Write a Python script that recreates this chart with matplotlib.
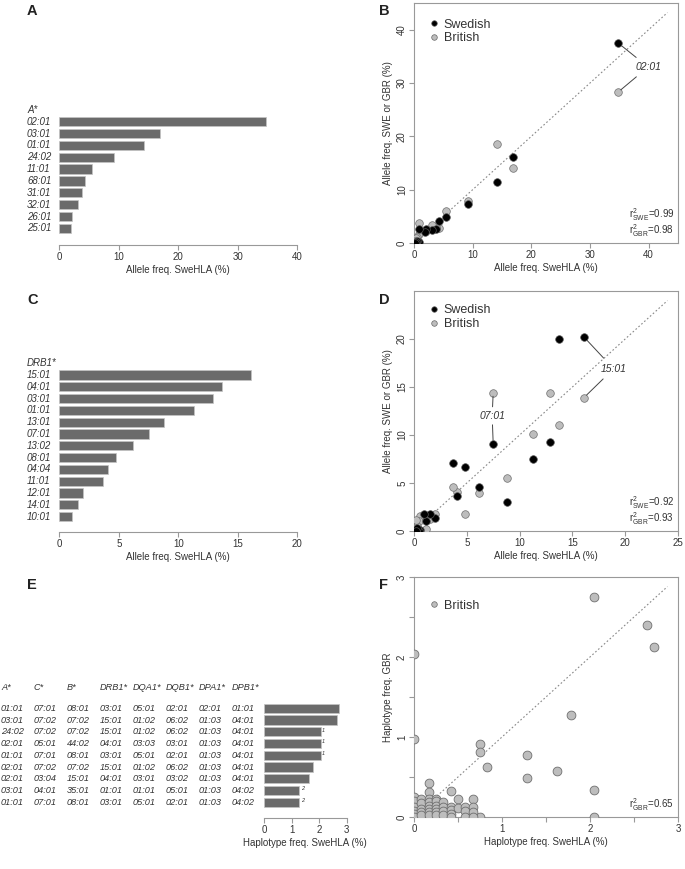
import matplotlib
matplotlib.use('Agg')
import matplotlib.pyplot as plt
from matplotlib.lines import Line2D
from matplotlib.transforms import blended_transform_factory

plt.rcParams['font.family'] = ['Liberation Sans', 'DejaVu Sans']
plt.rcParams['mathtext.fontset'] = 'custom'
plt.rcParams['mathtext.rm'] = 'Liberation Sans'
plt.rcParams['mathtext.it'] = 'Liberation Sans:italic'

# ---- data ----
# panel A: HLA-A allele frequencies in SweHLA (%)
a_alleles = ['02:01', '03:01', '01:01', '24:02', '11:01', '68:01', '31:01', '32:01', '26:01', '25:01']
a_freq = [34.8, 16.9, 14.2, 9.2, 5.5, 4.3, 3.8, 3.1, 2.1, 1.9]

# panel B: SweHLA vs Swedish / British
b_x = [34.8, 16.9, 14.2, 9.2, 5.5, 4.3, 3.8, 3.1, 2.1, 1.8, 0.8, 0.8, 0.5, 0.3, 0.2]
b_swe = [37.5, 16.1, 11.4, 7.4, 4.8, 4.2, 2.6, 2.5, 2.6, 2.0, 2.6, 0.1, 0.3, 0.1, 0.0]
b_gbr = [28.3, 14.1, 18.6, 7.9, 6.0, 2.9, 3.0, 3.4, 2.3, 2.2, 3.8, 1.6, 1.1, 0.9, 0.3]

# panel C: DRB1 allele frequencies
c_alleles = ['15:01', '04:01', '03:01', '01:01', '13:01', '07:01', '13:02', '08:01',
             '04:04', '11:01', '12:01', '14:01', '10:01']
c_freq = [16.1, 13.7, 12.9, 11.3, 8.8, 7.5, 6.2, 4.8, 4.1, 3.7, 2.0, 1.6, 1.1]

# panel D
d_x = [16.1, 13.7, 12.9, 11.3, 8.8, 7.5, 6.2, 4.8, 4.1, 3.7, 2.0, 1.5, 1.1, 0.9, 0.6, 0.5, 0.3, 0.2]
d_swe = [20.2, 20.0, 9.3, 7.5, 3.0, 9.1, 4.6, 6.7, 3.6, 7.1, 1.4, 1.8, 1.0, 1.8, 0.1, 0.0, 0.3, 0.0]
d_gbr = [13.9, 11.0, 14.4, 10.1, 5.5, 14.4, 4.0, 1.8, 4.1, 4.6, 1.8, 1.3, 0.2, 1.5, 1.6, 1.0, 0.5, 1.1]

# panel E: haplotypes
hap_A = ['01:01', '03:01', '24:02', '02:01', '01:01', '02:01', '02:01', '03:01', '01:01']
hap_C = ['07:01', '07:02', '07:02', '05:01', '07:01', '07:02', '03:04', '04:01', '07:01']
hap_B = ['08:01', '07:02', '07:02', '44:02', '08:01', '07:02', '15:01', '35:01', '08:01']
hap_DRB1 = ['03:01', '15:01', '15:01', '04:01', '03:01', '15:01', '04:01', '01:01', '03:01']
hap_DQA1 = ['05:01', '01:02', '01:02', '03:03', '05:01', '01:02', '03:01', '01:01', '05:01']
hap_DQB1 = ['02:01', '06:02', '06:02', '03:01', '02:01', '06:02', '03:02', '05:01', '02:01']
hap_DPA1 = ['02:01', '01:03', '01:03', '01:03', '01:03', '01:03', '01:03', '01:03', '01:03']
hap_DPB1 = ['01:01', '04:01', '04:01', '04:01', '04:01', '04:01', '04:01', '04:02', '04:02']
hap_freq = [2.73, 2.65, 2.05, 2.05, 2.05, 1.78, 1.62, 1.28, 1.28]
hap_note = ['', '', '1', '1', '1', '', '', '2', '2']

# panel F: haplotype freq SweHLA vs GBR
f_x = [2.05, 2.65, 2.73, 0.0, 0.0, 1.78, 0.75, 0.75, 0.83, 1.28, 1.28, 1.62, 2.05, 2.05, 0.75,
       0.0, 0.0, 0.0, 0.0, 0.0, 0.0,
       0.08, 0.08, 0.08, 0.08, 0.08,
       0.17, 0.17, 0.17, 0.17, 0.17, 0.17, 0.17, 0.17,
       0.25, 0.25, 0.25, 0.25, 0.25, 0.25,
       0.33, 0.33, 0.33, 0.33,
       0.42, 0.42, 0.42, 0.42, 0.42,
       0.50, 0.50,
       0.58, 0.58, 0.58,
       0.67, 0.67, 0.67, 0.67]
f_y = [2.75, 2.40, 2.13, 2.04, 0.97, 1.28, 0.91, 0.81, 0.63, 0.77, 0.49, 0.57, 0.34, 0.0, 0.0,
       0.25, 0.20, 0.13, 0.08, 0.04, 0.0,
       0.22, 0.18, 0.10, 0.06, 0.02,
       0.42, 0.31, 0.22, 0.19, 0.14, 0.10, 0.06, 0.02,
       0.23, 0.20, 0.14, 0.10, 0.06, 0.02,
       0.19, 0.13, 0.07, 0.03,
       0.32, 0.13, 0.09, 0.04, 0.0,
       0.22, 0.11,
       0.13, 0.07, 0.0,
       0.23, 0.12, 0.06, 0.0]

# ---- style ----
TXT = '#333333'
AXC = '#999999'
BARC = '#6b6b6b'
SWE_C = 'black'
GBR_C = '#bdbdbd'

W, H = 685, 869
fig = plt.figure(figsize=(W / 100, H / 100), dpi=100)


def px_axes(l, t, r, b):
    return fig.add_axes([l / W, 1 - b / H, (r - l) / W, (b - t) / H])


def bar_panel(l, r, row0, step, axis_y, values, xmax, xticks, xlabel):
    n = len(values)
    ax = px_axes(l, row0 - 2 * step, r, axis_y)
    ax.barh(range(n), values, height=0.78, color=BARC, edgecolor='#c4c4c4', linewidth=0.5)
    ax.set_xlim(0, xmax)
    ax.set_ylim((axis_y - row0) / step, -2)
    for s in ['left', 'top', 'right']:
        ax.spines[s].set_visible(False)
    ax.spines['bottom'].set_bounds(0, xmax)
    ax.spines['bottom'].set_color(AXC)
    ax.spines['bottom'].set_linewidth(0.8)
    ax.set_yticks([])
    ax.set_xticks(xticks)
    ax.tick_params(axis='x', length=3.5, width=0.8, color=AXC, labelcolor=TXT, labelsize=7, pad=1.5)
    ax.set_xlabel(xlabel, fontsize=7, color=TXT, labelpad=2)
    return ax


def row_labels(ax, xpx, header, labels, fs=7, head_row=-1):
    tr = blended_transform_factory(fig.transFigure, ax.transData)
    ax.text(xpx / W, head_row, header, transform=tr, ha='left', va='center', style='italic',
            fontsize=fs, color=TXT, clip_on=False)
    for i, lab in enumerate(labels):
        ax.text(xpx / W, i, lab, transform=tr, ha='left', va='center', style='italic',
                fontsize=fs, color=TXT, clip_on=False)


def scatter_panel(t, b, lim, xticks, yticks, xlabel, ylabel):
    ax = px_axes(414, t, 678, b)
    ax.set_xlim(0, lim)
    ax.set_ylim(0, lim)
    for s in ax.spines.values():
        s.set_color(AXC)
        s.set_linewidth(0.8)
    ax.set_xticks(xticks)
    ax.set_yticks(yticks)
    ax.tick_params(length=3.5, width=0.8, color=AXC, labelcolor=TXT, labelsize=7, pad=1.5)
    ax.tick_params(axis='y', labelrotation=90)
    for lab in ax.get_yticklabels():
        lab.set_va('center')
    ax.set_xlabel(xlabel, fontsize=7, color=TXT, labelpad=2)
    ax.set_ylabel(ylabel, fontsize=7, color=TXT, labelpad=3)
    ax.plot([0, lim * 0.96], [0, lim * 0.96], linestyle=(0, (1.5, 2)), color='#888888', lw=0.8, zorder=1)
    return ax


def legend(ax, items, y_top):
    handles = [Line2D([], [], marker='o', ls='', mfc=c, mec='#666666', mew=0.5, ms=4, label=lab)
               for lab, c in items]
    ax.legend(handles=handles, loc='upper left', bbox_to_anchor=(0.06, y_top), frameon=False,
              fontsize=9, handlelength=0.6, handletextpad=0.5, labelspacing=0.15,
              borderaxespad=0, borderpad=0, labelcolor=TXT)


def guide(ax, txt_xy, pt_xy, shrink):
    ax.annotate('', xy=pt_xy, xytext=txt_xy,
                arrowprops=dict(arrowstyle='-', color='#444444', lw=0.7, shrinkA=shrink, shrinkB=2.5))


def r2_text(ax, y, group, value):
    ax.text(0.985, y, r'r$^2_{\mathrm{%s}}$=%s' % (group, value), transform=ax.transAxes,
            ha='right', va='center', fontsize=7, color=TXT)


# ---- panel A ----
axA = bar_panel(59.3, 297.3, 121.7, 11.85, 245, a_freq, 40, [0, 10, 20, 30, 40],
                'Allele freq. SweHLA (%)')
row_labels(axA, 27, 'A*', a_alleles)

# ---- panel B ----
axB = scatter_panel(3, 243, 45, [0, 10, 20, 30, 40], [0, 10, 20, 30, 40],
                    'Allele freq. SweHLA (%)', 'Allele freq. SWE or GBR (%)')
axB.scatter(b_x, b_gbr, s=30, color=GBR_C, edgecolor='#6f6f6f', linewidth=0.5, zorder=3)
axB.scatter(b_x, b_swe, s=30, color=SWE_C, edgecolor='#555555', linewidth=0.5, zorder=4)
legend(axB, [('Swedish', SWE_C), ('British', GBR_C)], 0.935)
axB.text(39.9, 33.0, '02:01', ha='center', va='center', style='italic', fontsize=7.5, color=TXT)
guide(axB, (39.9, 33.0), (b_x[0], b_swe[0]), 11)
guide(axB, (39.9, 33.0), (b_x[0], b_gbr[0]), 11)
r2_text(axB, 0.118, 'SWE', '0.99')
r2_text(axB, 0.05, 'GBR', '0.98')

# ---- panel C ----
axC = bar_panel(59.3, 297.3, 375, 11.8, 532, c_freq, 20, [0, 5, 10, 15, 20],
                'Allele freq. SweHLA (%)')
row_labels(axC, 27, 'DRB1*', c_alleles)

# ---- panel D ----
axD = scatter_panel(291, 531, 25, [0, 5, 10, 15, 20, 25], [0, 5, 10, 15, 20],
                    'Allele freq. SweHLA (%)', 'Allele freq. SWE or GBR (%)')
axD.scatter(d_x, d_gbr, s=30, color=GBR_C, edgecolor='#6f6f6f', linewidth=0.5, zorder=3)
axD.scatter(d_x, d_swe, s=30, color=SWE_C, edgecolor='#555555', linewidth=0.5, zorder=4)
legend(axD, [('Swedish', SWE_C), ('British', GBR_C)], 0.945)
axD.text(18.9, 16.9, '15:01', ha='center', va='center', style='italic', fontsize=7.5, color=TXT)
guide(axD, (18.9, 16.9), (d_x[0], d_swe[0]), 10.5)
guide(axD, (18.9, 16.9), (d_x[0], d_gbr[0]), 10.5)
axD.text(7.4, 12.0, '07:01', ha='center', va='center', style='italic', fontsize=7.5, color=TXT)
guide(axD, (7.4, 12.0), (d_x[5], d_swe[5]), 6.5)
guide(axD, (7.4, 12.0), (d_x[5], d_gbr[5]), 6.5)
r2_text(axD, 0.118, 'SWE', '0.92')
r2_text(axD, 0.05, 'GBR', '0.93')

# ---- panel E ----
axE = bar_panel(264, 346.7, 708.3, 11.75, 818, hap_freq, 3, [0, 1, 2, 3],
                'Haplotype freq. SweHLA (%)')
cols = [('A*', hap_A), ('C*', hap_C), ('B*', hap_B), ('DRB1*', hap_DRB1), ('DQA1*', hap_DQA1),
        ('DQB1*', hap_DQB1), ('DPA1*', hap_DPA1), ('DPB1*', hap_DPB1)]
for k, (head, vals) in enumerate(cols):
    row_labels(axE, 1 + 32.9 * k, head, vals, fs=6.6, head_row=-1.75)
for i, (v, note) in enumerate(zip(hap_freq, hap_note)):
    if note:
        axE.text(v + 0.06, i - 0.15, note, fontsize=4, style='italic', color=TXT,
                 ha='left', va='center', clip_on=False)

# ---- panel F ----
axF = scatter_panel(577, 817, 3, [0, 1, 2, 3], [0, 1, 2, 3],
                    'Haplotype freq. SweHLA (%)', 'Haplotype freq. GBR')
axF.set_xticks([0.5, 1.5, 2.5], minor=True)
axF.set_yticks([0.5, 1.5, 2.5], minor=True)
axF.tick_params(which='minor', length=3.5, width=0.8, color=AXC)
axF.scatter(f_x, f_y, s=40, color=GBR_C, edgecolor='#6f6f6f', linewidth=0.6, zorder=3)
legend(axF, [('British', GBR_C)], 0.905)
r2_text(axF, 0.05, 'GBR', '0.65')

# ---- panel letters ----
for lab, x, y in [('A', 27, 11), ('B', 379, 11), ('C', 27, 300), ('D', 379, 300),
                  ('E', 27, 585), ('F', 379, 585)]:
    fig.text(x / W, 1 - y / H, lab, fontsize=10.5, weight='bold', color='#222222',
             ha='left', va='center')

fig.savefig('out.png', dpi=100)
